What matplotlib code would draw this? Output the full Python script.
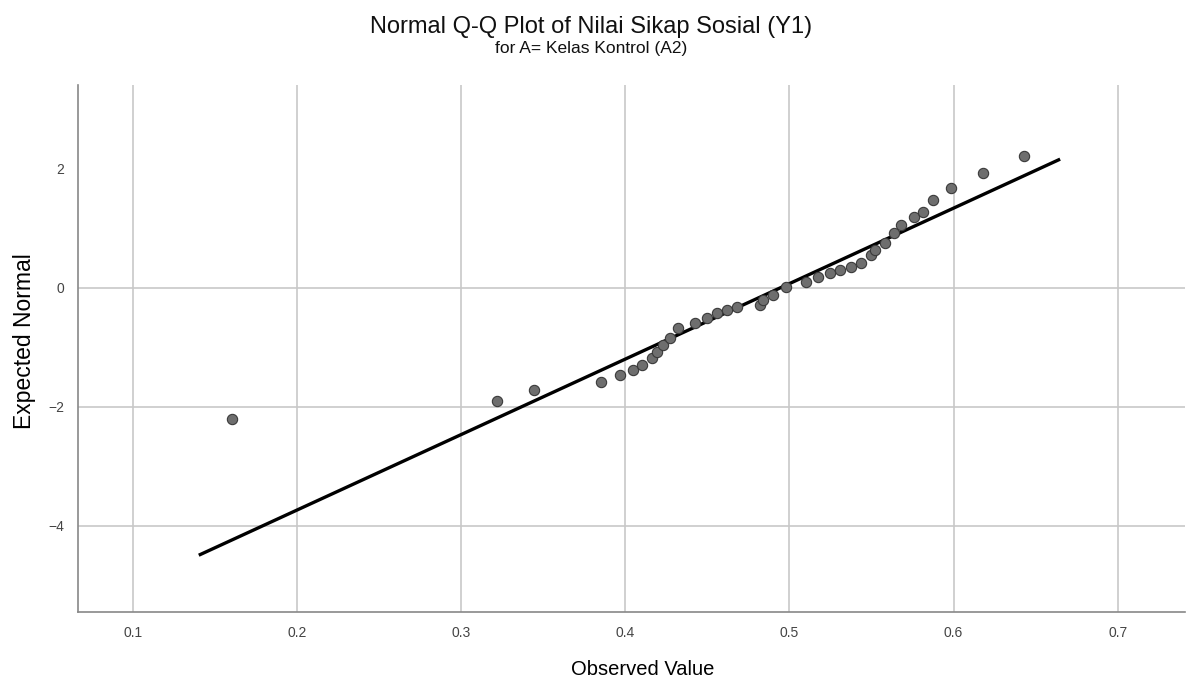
import matplotlib
matplotlib.use("Agg")
import matplotlib.pyplot as plt

observed = [0.1604, 0.3220, 0.3445, 0.3854, 0.3970, 0.4049, 0.4104, 0.4165,
            0.4195, 0.4232, 0.4274, 0.4323, 0.4427, 0.4500, 0.4561, 0.4622,
            0.4683, 0.4823, 0.4841, 0.4902, 0.4976, 0.5098, 0.5171, 0.5250,
            0.5311, 0.5372, 0.5433, 0.5494, 0.5524, 0.5585, 0.5634, 0.5677,
            0.5756, 0.5811, 0.5872, 0.5982, 0.6177, 0.6427]
expected = [-2.20, -1.90, -1.71, -1.58, -1.46, -1.38, -1.29, -1.18,
            -1.08, -0.96, -0.84, -0.67, -0.59, -0.50, -0.42, -0.37,
            -0.32, -0.29, -0.20, -0.12, 0.02, 0.10, 0.18, 0.25,
            0.30, 0.35, 0.42, 0.55, 0.64, 0.76, 0.92, 1.06,
            1.19, 1.28, 1.48, 1.68, 1.93, 2.22]

# reference line (normal distribution fit)
line_mean = 0.4944
line_sd = 0.0788
line_x = [0.141, 0.664]

x_ticks = [0.1, 0.2, 0.3, 0.4, 0.5, 0.6, 0.7]
y_ticks = [2, 0, -2, -4]
y_grid = [0, -2, -4]

plt.rcParams['font.family'] = ['Liberation Sans', 'DejaVu Sans']

fig = plt.figure(figsize=(11.95, 6.86), dpi=100)
ax = fig.add_axes([0.0653, 0.108, 0.9263, 0.768])

for gx in x_ticks:
    ax.axvline(gx, color='#c8c8c8', lw=1.2, zorder=0)
for gy in y_grid:
    ax.axhline(gy, color='#c8c8c8', lw=1.2, zorder=0)

line_y = [(v - line_mean) / line_sd for v in line_x]
ax.plot(line_x, line_y, color='black', lw=2.4, zorder=2)
ax.scatter(observed, expected, s=55, facecolor='#6e6e6e', edgecolor='#3a3a3a',
           linewidth=0.8, zorder=3)

ax.set_xlim(0.0665, 0.741)
ax.set_ylim(-5.45, 3.41)
ax.set_xticks(x_ticks)
ax.set_xticklabels([f"{t:.1f}" for t in x_ticks])
ax.set_yticks(y_ticks)
ax.tick_params(length=0, labelsize=10, colors='#444444', pad=10)

for s in ['top', 'right']:
    ax.spines[s].set_visible(False)
for s in ['left', 'bottom']:
    ax.spines[s].set_color('#888888')
    ax.spines[s].set_linewidth(1.2)

ax.set_xlabel('Observed Value', fontsize=14.5, va='center')
ax.xaxis.set_label_coords(0.51, -0.11)
ax.set_ylabel('Expected Normal', fontsize=16.5, va='center')
ax.yaxis.set_label_coords(-0.048, 0.514)

fig.text(0.495, 0.96, 'Normal Q-Q Plot of Nilai Sikap Sosial (Y1)',
         ha='center', va='center', fontsize=17, color='#111111')
fig.text(0.495, 0.929, 'for A= Kelas Kontrol (A2)',
         ha='center', va='center', fontsize=12.5, color='#111111')

fig.savefig('out.png', dpi=100)
